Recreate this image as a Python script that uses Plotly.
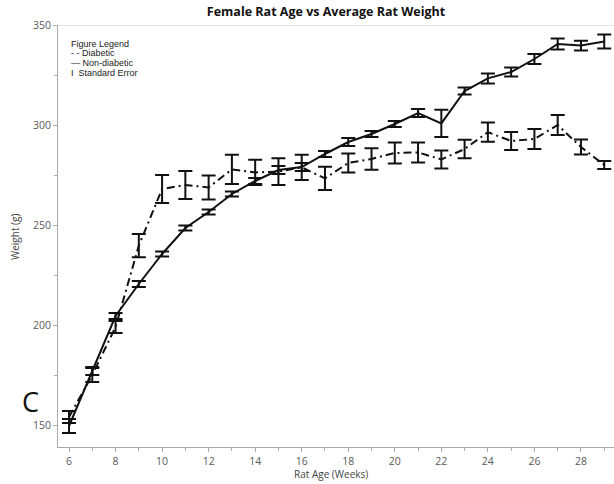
import plotly.graph_objects as go

weeks = list(range(6, 30))
nondiabetic_mean = [149.5, 177, 204.5, 220.5, 235.5, 248.5, 256.5, 265.5, 272, 277.5,
                    279, 285.5, 291.5, 295.5, 300.5, 306, 300.8, 317, 323.3, 326.5,
                    333, 340.5, 339.7, 341.7]
nondiabetic_se = [3.5, 2, 1.5, 1.5, 1.2, 1.2, 1.2, 1.2, 1.5, 2,
                  2, 1.5, 2, 1.5, 1.5, 2, 6.8, 1.7, 2.5, 2.2,
                  2.5, 2.8, 2.4, 3.5]
diabetic_mean = [154, 175, 199, 239.7, 268, 270, 268.8, 277.8, 276.3, 276.7,
                 278.8, 273.3, 281, 283, 286, 286.3, 282.8, 288, 296.4, 292,
                 293, 300, 289, 280]
diabetic_se = [3, 3.5, 3, 5.8, 7, 7, 6, 7.3, 6.3, 6.7,
               6.3, 5.8, 4.8, 5.4, 5.2, 5, 4.5, 4.6, 4.8, 4.5,
               5, 5, 3.7, 2]

legend_lines = ["Figure Legend", "- - Diabetic", "— Non-diabetic", "I  Standard Error"]

W, H = 614, 484
L, R, T, B = 58, 0, 25, 37
pw, ph = W - L - R, H - T - B

def px(x):
    return (x - L) / pw

def py(y):
    return (H - B - y) / ph

fig = go.Figure()
fig.add_trace(go.Scatter(
    x=weeks, y=diabetic_mean, mode="lines",
    line=dict(color="#111", width=2, dash="8px,4px,2px,4px"),
    error_y=dict(type="data", array=diabetic_se, color="#111", thickness=2, width=7),
    showlegend=False, cliponaxis=True))
fig.add_trace(go.Scatter(
    x=weeks, y=nondiabetic_mean, mode="lines",
    line=dict(color="#111", width=2),
    error_y=dict(type="data", array=nondiabetic_se, color="#111", thickness=2, width=7),
    showlegend=False, cliponaxis=True))

ann = []
ys = [44, 53.5, 63, 72.5]
for t, yy in zip(legend_lines, ys):
    ann.append(dict(text=t, x=px(69), y=py(yy), xref="paper", yref="paper",
                    xanchor="left", yanchor="middle", showarrow=False,
                    font=dict(family="Liberation Sans, Arial", size=9, color="#222")))
ann.append(dict(text="C", x=px(31), y=py(401), xref="paper", yref="paper",
                xanchor="center", yanchor="middle", showarrow=False,
                font=dict(family="Open Sans", size=27, color="#111")))
ann.append(dict(text="Rat Age (Weeks)", x=px(331), y=py(474), xref="paper", yref="paper",
                xanchor="center", yanchor="middle", showarrow=False,
                font=dict(family="Open Sans", size=10, color="#444")))
ann.append(dict(text="Weight (g)", x=px(15), y=py(237), xref="paper", yref="paper",
                xanchor="center", yanchor="middle", showarrow=False, textangle=-90,
                font=dict(family="Open Sans", size=10, color="#444")))

fig.update_layout(
    template="none",
    width=W, height=H,
    margin=dict(l=L, r=R, t=T, b=B, autoexpand=False),
    paper_bgcolor="white", plot_bgcolor="white",
    title=dict(text="<b>Female Rat Age vs Average Rat Weight</b>", x=0.531, xanchor="center",
               y=1 - 12 / H, yanchor="middle",
               font=dict(family="Open Sans", size=12.5, color="#111")),
    annotations=ann,
    shapes=[dict(type="line", xref="paper", x0=0, x1=1, yref="y", y0=350, y1=350,
                 line=dict(color="#c8c8c8", width=1))],
    xaxis=dict(range=[5.527, 29.42], tickmode="array", tickvals=list(range(6, 30, 2)),
               automargin=False,
               showgrid=False, zeroline=False, showline=True, linecolor="#aaa", linewidth=1,
               ticks="outside", ticklen=4, tickcolor="#aaa",
               minor=dict(tickvals=list(range(7, 30, 2)), ticks="outside", ticklen=3, tickcolor="#aaa"),
               tickfont=dict(family="Open Sans", size=10.5, color="#5a5a5a")),
    yaxis=dict(range=[139, 350], tickmode="array", tickvals=[150, 200, 250, 300, 350],
               automargin=False,
               showgrid=False, zeroline=False, showline=True, linecolor="#aaa", linewidth=1,
               ticks="outside", ticklen=4, tickcolor="#aaa",
               minor=dict(tickvals=[175, 225, 275, 325], ticks="outside", ticklen=3, tickcolor="#aaa"),
               tickfont=dict(family="Open Sans", size=10.5, color="#5a5a5a")),
)

fig.write_html("out.html", config={"displayModeBar": False},
               post_script="document.body.style.margin='0';document.body.style.overflow='hidden';")
